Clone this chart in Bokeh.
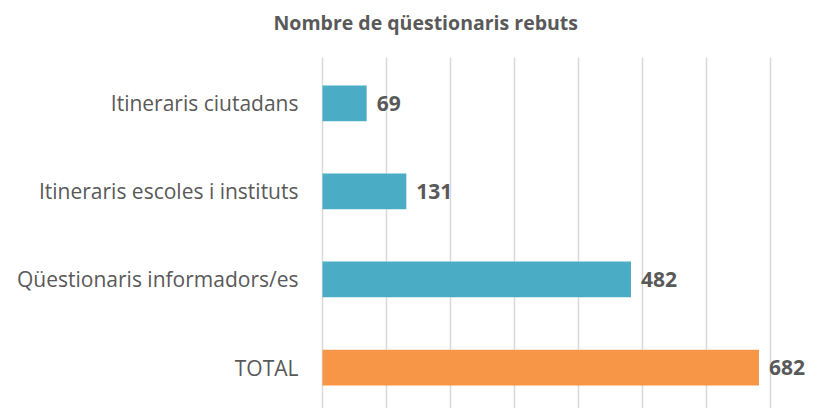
from bokeh.plotting import figure
from bokeh.models import ColumnDataSource, Range1d, LabelSet, Label
from bokeh.core.properties import value
from bokeh.embed import file_html
from bokeh.resources import INLINE

categories = ["TOTAL", "Qüestionaris informadors/es", "Itineraris escoles i instituts", "Itineraris ciutadans"]
values = [682, 482, 131, 69]
grid_ticks = [0, 100, 200, 300, 400, 500, 600, 700]
title_text = "Nombre de qüestionaris rebuts"

TEAL = "#4BACC6"
ORANGE = "#F79646"
colors = [ORANGE if c == "TOTAL" else TEAL for c in categories]
pos = list(range(len(categories)))

# vertical extent of the value grid (in category units) and the full frame range
GRID_LO, GRID_HI = -0.465, 3.52
Y_TOP = 4.167
X_LEFT, X_RIGHT = -503.125, 787.5

src = ColumnDataSource(dict(y=pos, v=values, c=colors, lab=[str(v) for v in values],
                            cat=categories, zero=[0] * len(categories)))
grid_src = ColumnDataSource(dict(x=grid_ticks, y0=[GRID_LO] * len(grid_ticks), y1=[GRID_HI] * len(grid_ticks)))

p = figure(width=826, height=408, output_backend="svg", toolbar_location=None,
           x_range=Range1d(X_LEFT, X_RIGHT), y_range=Range1d(GRID_LO, Y_TOP),
           min_border_left=0, min_border_right=0, min_border_top=0, min_border_bottom=0)
p.outline_line_color = None
p.background_fill_color = "white"
p.border_fill_color = "white"
p.xaxis.visible = False
p.yaxis.visible = False
p.xgrid.grid_line_color = None
p.ygrid.grid_line_color = None

p.segment(x0="x", y0="y0", x1="x", y1="y1", line_color="#D9D9D9", line_width=1.5, source=grid_src)
p.hbar(y="y", right="v", left=0, height=0.406, fill_color="c", line_color=None, source=src)

val_labels = LabelSet(x="v", y="y", text="lab", source=src, x_offset=10, text_baseline="middle",
                      text_align="left", text_font=value("Open Sans"), text_font_style="bold",
                      text_font_size="21px", text_color="#595959")
p.add_layout(val_labels)

cat_labels = LabelSet(x="zero", y="y", text="cat", source=src, x_offset=-24, text_baseline="middle",
                      text_align="right", text_font=value("Open Sans"), text_font_style="normal",
                      text_font_size="21px", text_color="#595959")
p.add_layout(cat_labels)

title_label = Label(x=273, y=386, x_units="screen", y_units="screen", text=title_text,
                    text_align="left", text_baseline="middle", text_font="Open Sans",
                    text_font_size="19.5px", text_font_style="bold", text_color="#595959")
p.add_layout(title_label)

open("out.html", "w").write(file_html(p, INLINE))
